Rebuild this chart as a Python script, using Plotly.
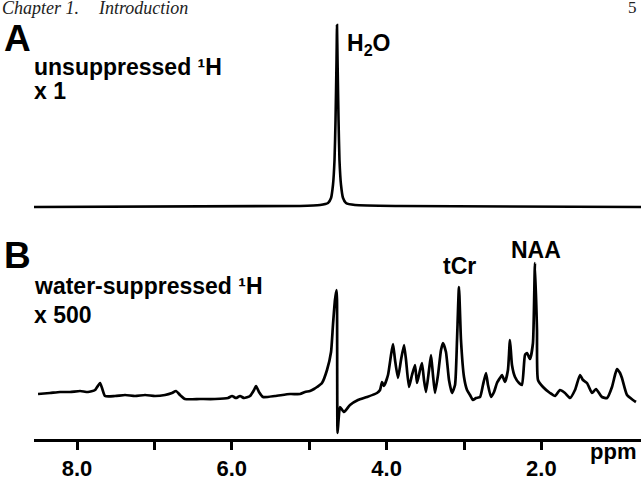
import plotly.graph_objects as go

# ---- Panel A: unsuppressed 1H spectrum (ppm, relative intensity) ----
a_ppm = [8.556, 5.119, 4.860, 4.757, 4.718, 4.693, 4.673, 4.660, 4.647, 4.641,
         4.634, 4.621, 4.609, 4.589, 4.563, 4.525, 4.408, 3.827, 0.713]
a_int = [0, 1, 2, 4, 9, 22, 47, 87, 147, 182,
         147, 87, 47, 22, 9, 4, 2, 1, 0]

# ---- Panel B: water-suppressed 1H spectrum (ppm, relative intensity) ----
b_ppm = [8.504, 8.349, 8.220, 8.090, 7.961, 7.858, 7.767, 7.703, 7.677, 7.638,
         7.509, 7.380, 7.251, 7.121, 6.992, 6.863, 6.773, 6.721, 6.669, 6.605,
         6.411, 6.217, 6.049, 5.997, 5.946, 5.894, 5.842, 5.765, 5.713, 5.687,
         5.649, 5.597, 5.442, 5.248, 5.119, 5.054, 4.990, 4.938, 4.899, 4.835,
         4.770, 4.718, 4.693, 4.667, 4.647, 4.641, 4.634, 4.621, 4.602, 4.550,
         4.473, 4.370, 4.253, 4.124, 4.085, 4.059, 4.034, 3.982, 3.943, 3.917,
         3.891, 3.853, 3.814, 3.775, 3.749, 3.711, 3.672, 3.633, 3.607, 3.568,
         3.543, 3.517, 3.491, 3.452, 3.426, 3.401, 3.375, 3.336, 3.297, 3.271,
         3.233, 3.194, 3.155, 3.116, 3.090, 3.065, 3.039, 3.000, 2.961, 2.922,
         2.884, 2.845, 2.793, 2.755, 2.716, 2.690, 2.651, 2.612, 2.574, 2.535,
         2.509, 2.470, 2.432, 2.406, 2.380, 2.341, 2.289, 2.251, 2.212, 2.186,
         2.147, 2.109, 2.083, 2.057, 2.044, 1.979, 1.889, 1.824, 1.760, 1.695,
         1.630, 1.566, 1.501, 1.463, 1.411, 1.346, 1.295, 1.217, 1.152, 1.088,
         1.049, 1.023, 0.984, 0.959, 0.894, 0.817, 0.778]
b_int = [1, 2, 3, 3, 4, 3, 5, 12, 7, -1,
         -1, 0, -1, 0, -1, 0, 2, 4, 0, -4,
         -4, -4, -3, -1, -3, -1, -3, -1, 5, 9,
         3, -2, -1, 1, 1, 3, 4, 6, 8, 12,
         25, 43, 70, 95, 105, 95, -38, -25, -12, -17,
         -10, -5, -2, 2, 5, 13, 9, 20, 40, 51,
         35, 17, 35, 50, 35, 8, 20, 30, 12, 25,
         32, 15, 3, 25, 40, 20, 2, 20, 45, 52,
         43, 15, 2, 10, 55, 108, 55, 18, 5, 0,
         -5, -3, -2, 10, 22, 10, -2, 3, 12, 17,
         20, 13, 25, 55, 30, 18, 12, 10, 40, 42,
         36, 52, 132, 65, 15, 8, 2, -1, 5, 2,
         -3, 5, 20, 15, 12, 2, 6, -2, -3, 8,
         20, 26, 22, 17, 0, -5, -7]

tick_vals = [8, 7, 6, 5, 4, 3, 2]
tick_text = ["<b>8.0</b>", "", "<b>6.0</b>", "", "<b>4.0</b>", "", "<b>2.0</b>"]

W, H = 644, 486
PB = 439  # plot-area height in px (bottom margin 47)

fig = go.Figure()
fig.add_trace(go.Scatter(x=b_ppm, y=b_int, mode="lines", xaxis="x", yaxis="y",
                         line=dict(color="black", width=2.7, shape="spline", smoothing=0.5),
                         showlegend=False))
fig.add_trace(go.Scatter(x=a_ppm, y=a_int, mode="lines", xaxis="x", yaxis="y2",
                         line=dict(color="black", width=2.6, shape="spline", smoothing=0.5),
                         showlegend=False))

SANS = "Liberation Sans, Arial, sans-serif"
SERIF = "Liberation Serif, serif"


def px(x):
    return x / W


def py(y):
    return (PB - y) / PB


def lab(text, x, y, size=23, xanchor="left", family=SANS, color="black"):
    fig.add_annotation(text=text, x=px(x), y=py(y), xref="paper", yref="paper",
                       xanchor=xanchor, yanchor="middle", showarrow=False,
                       font=dict(family=family, size=size, color=color))


lab("<i>Chapter 1.</i>", 0, 8, size=18, family=SERIF, color="#222")
lab("<i>Introduction</i>", 96, 8, size=18, family=SERIF, color="#222")
lab("5", 639, 8, size=17, xanchor="right", family=SERIF, color="#222")
lab("<b>A</b>", 2, 38.5, size=37)
lab("<b>unsuppressed \u00b9H</b>", 32, 67)
lab("<b>x 1</b>", 32, 91)
lab("<b>H<sub>2</sub>O</b>", 345, 44)
lab("<b>B</b>", 2, 255, size=37)
lab("<b>water-suppressed \u00b9H</b>", 32, 286)
lab("<b>x 500</b>", 32, 315)
lab("<b>tCr</b>", 441, 266)
lab("<b>NAA</b>", 509, 250)
lab("<b>ppm</b>", 588, 451, size=22)

fig.update_layout(
    width=W, height=H,
    margin=dict(l=0, r=0, t=0, b=H - PB),
    paper_bgcolor="white", plot_bgcolor="white",
    xaxis=dict(domain=[34 / W, 641 / W], range=[8.556, 0.713],
               showgrid=False, zeroline=False, showline=True,
               linecolor="black", linewidth=3,
               ticks="outside", ticklen=8, tickwidth=3, tickcolor="black",
               tickmode="array", tickvals=tick_vals, ticktext=tick_text,
               tickfont=dict(family=SANS, size=22, color="black"),
               ticklabelstandoff=0, anchor="y"),
    yaxis=dict(domain=[0, 202 / PB], range=[-44, 158], visible=False),
    yaxis2=dict(domain=[0.5, 1], range=[-12.5, 207], visible=False, anchor="x"),
)

fig.write_html("out.html")
